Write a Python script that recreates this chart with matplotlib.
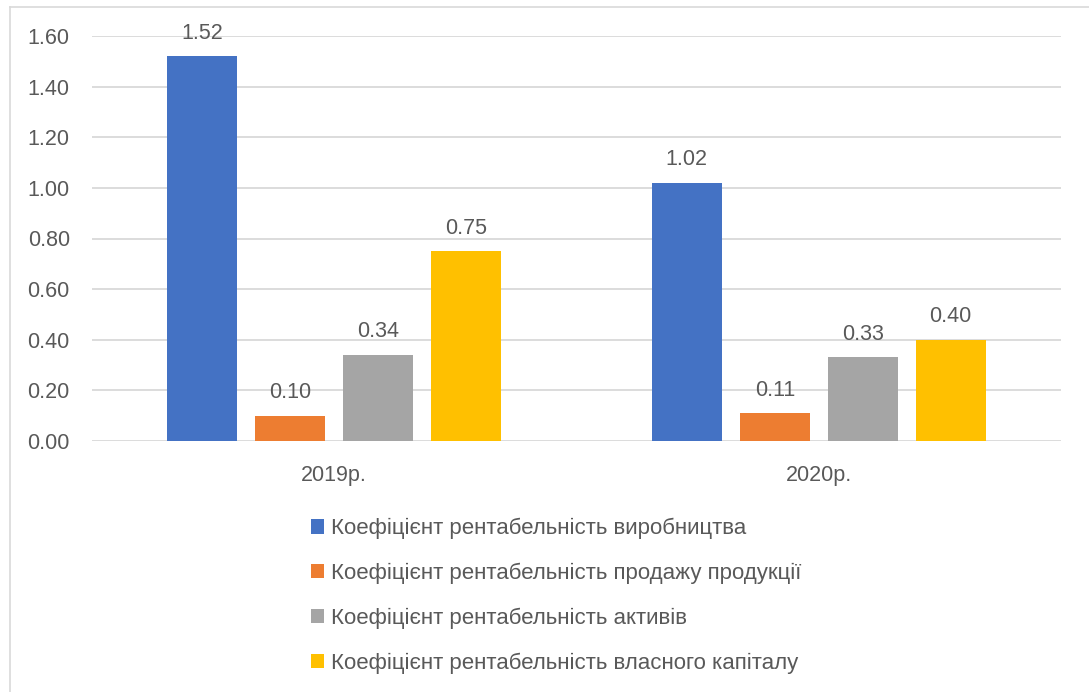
import matplotlib.pyplot as plt
from matplotlib.lines import Line2D
import numpy as np

plt.rcParams['font.family'] = ['Liberation Sans', 'DejaVu Sans']

years = ['2019р.', '2020р.']
series_names = [
    'Коефіцієнт рентабельність виробництва',
    'Коефіцієнт рентабельність продажу продукції',
    'Коефіцієнт рентабельність активів',
    'Коефіцієнт рентабельність власного капіталу',
]
production = [1.52, 1.02]
sales = [0.10, 0.11]
assets = [0.34, 0.33]
equity = [0.75, 0.40]

colors = ['#4472C4', '#ED7D31', '#A5A5A5', '#FFC000']
text_color = '#595959'

fig = plt.figure(figsize=(10.89, 6.92), dpi=100)
ax = fig.add_axes([92 / 1089, 251 / 692, 969 / 1089, 405 / 692])

x = np.arange(len(years))
step = 0.1816
width = 0.1445
all_series = [production, sales, assets, equity]
handles = []
for i, (vals, name) in enumerate(zip(all_series, series_names)):
    pos = x + (i - 1.5) * step
    bars = ax.bar(pos, vals, width, color=colors[i], label=name, zorder=3)
    handles.append(bars)
    for xp, v in zip(pos, vals):
        ax.annotate(f'{v:.2f}', (xp, v), xytext=(0, 9), textcoords='offset points',
                    ha='center', va='bottom', fontsize=15.5, color=text_color)

ax.set_xlim(-0.5, 1.5)
ax.set_ylim(0, 1.6)
ax.set_yticks(np.arange(0, 1.61, 0.2))
ax.set_yticklabels([f'{t:.2f}' for t in np.arange(0, 1.61, 0.2)])
ax.set_xticks(x)
ax.set_xticklabels(years)
ax.tick_params(axis='both', length=0, labelsize=15.5, colors=text_color)
ax.tick_params(axis='y', pad=16)
ax.tick_params(axis='x', pad=17)
ax.grid(axis='y', color='#D9D9D9', linewidth=1.3, zorder=0)
for s in ax.spines.values():
    s.set_visible(False)

fig.legend(handles=handles, labels=series_names, loc='upper left',
           bbox_to_anchor=(291 / 1089, 1 - 498 / 692), frameon=False,
           fontsize=16, handlelength=0.6, handleheight=0.6,
           handletextpad=0.3, labelspacing=1.06, labelcolor=text_color)

# outer chart border (only top and left visible in the crop)
fig.add_artist(Line2D([10 / 1089, 1], [1 - 7 / 692, 1 - 7 / 692],
                      transform=fig.transFigure, color='#D9D9D9', linewidth=1.2))
fig.add_artist(Line2D([10 / 1089, 10 / 1089], [0, 1 - 7 / 692],
                      transform=fig.transFigure, color='#D9D9D9', linewidth=1.2))

fig.savefig('out.png', dpi=100)
